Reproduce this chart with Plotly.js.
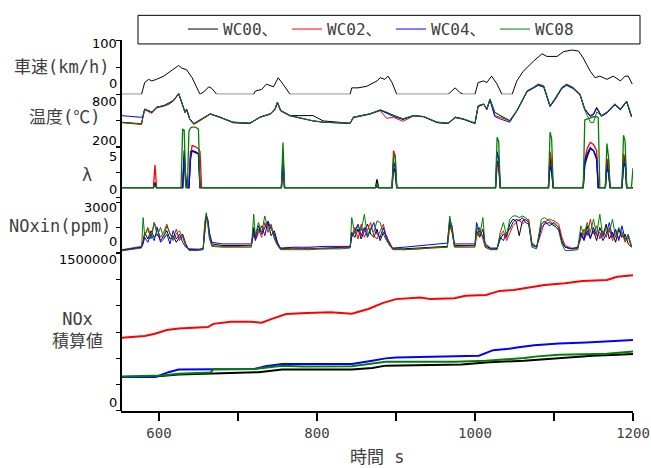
<!DOCTYPE html>
<html><head><meta charset="utf-8">
<script src="https://cdn.plot.ly/plotly-3.0.1.min.js"></script>
<style>html,body{margin:0;padding:0;background:#fff}#chart{width:651px;height:468px}</style>
</head><body><div id="chart"></div>
<script>
const seriesNames = ['WC00、','WC02、','WC04、','WC08'];
const seriesColors = ['#000000','#ff0000','#0000ff','#008000'];

// x axis ticks
const xTickVals = [600,700,800,900,1000,1100,1200];
const xTickText = ['600','','800','','1000','','1200'];

// Vehicle speed (km/h)
const speedTime = [553,578,582,587,591,597,606,612,620,625,629,635,642,648,652,658,663,667,673,720,722,730,736,745,751,757,766,842,844,852,863,876,880,886,890,895,901,966,975,981,985,1000,1004,1011,1015,1021,1028,1034,1047,1053,1061,1074,1085,1091,1104,1112,1123,1131,1137,1146,1152,1158,1167,1175,1184,1190,1194,1199];
const speedWC00 = [0,0,22,28,25,28,34,40,49,54,49,46,31,12,0,6,14,11,0,0,6,9,19,14,31,19,0,0,12,12,15,25,31,28,34,22,0,0,12,3,0,0,22,25,22,34,19,0,0,25,43,62,76,71,71,80,83,81,68,43,31,34,28,34,25,34,34,19];

// Temperature (℃)
const tempTime = [553,578,580,582,591,597,606,612,618,625,629,633,635,639,644,650,665,677,694,715,728,741,747,750,754,766,783,795,808,842,846,867,880,888,897,909,922,935,952,966,975,985,1000,1004,1011,1015,1019,1025,1032,1044,1053,1066,1074,1080,1087,1091,1095,1101,1110,1116,1124,1133,1139,1146,1150,1154,1160,1167,1177,1184,1192,1198];
const tempWC00 = [485,467,559,633,596,652,670,689,726,807, 707,596,633,522,467,496,578,541,485,474, 541,578,633,707,615,559,559,560,500,474, 541,578,622,596,559,522,559,548,485,474, 541,522,474,670,689,633,744,596,559,503, 615,837,874,911,892,781,670,744,874,911, 874,800,633,559,580,652,559,596,689,633, 720,559];
const tempWC02 = [480,460,550,625,585,645,665,685,720,800, 700,590,625,515,460,490,575,540,480,470, 540,575,625,700,610,555,522,500,485,470, 535,575,615,530,540,496,555,545,480,470, 535,520,470,660,685,625,735,560,540,500, 610,830,870,905,885,775,665,735,870,905, 870,795,630,555,575,645,555,590,685,625, 715,550];
const tempWC04 = [559,540,565,630,600,655,672,700,730,805, 705,600,630,525,470,500,580,545,480,472, 545,580,640,712,620,560,522,500,485,472, 540,580,620,590,550,515,560,548,482,470, 540,520,470,665,690,630,740,550,522,485, 612,830,865,900,880,770,660,735,865,900, 865,790,625,550,570,645,550,590,680,625, 715,545];
const tempWC08 = [482,465,555,635,598,655,672,692,728,810, 710,598,635,520,468,498,580,542,487,476, 542,580,635,712,618,560,525,502,487,476, 543,580,625,600,558,525,560,550,487,476, 543,525,476,672,692,636,748,598,560,505, 618,840,878,915,895,785,672,748,878,915, 878,800,620,485,480,600,560,600,692,636, 725,560];

// Lambda
const lambdaTime = [553,580,593,595,597,628,630,632,634,636, 638,640,642,646,650,652,654,656,755,757, 759,874,876,878,895,897,899,901,1026,1028, 1030,1032,1093,1095,1097,1099,1137,1139,1142,1146, 1150,1154,1156,1158,1165,1167,1169,1171,1186,1188, 1190,1192,1196,1198,1200];
const lambdaWC00 = [1,1,1,1.5,1,1,1,4.6,1.5,1, 1,4.5,4.6,4.4,4.3,1,1,1,1,3.5, 1,1,1.8,1,1,3.0,2.5,1,1,3.6, 3.0,1,1,4.0,3.0,1,1,3.2,4.0,4.8, 4.6,4.0,1,1,1,3.8,2.0,1,1,3.5, 4.0,1,1,1,1];
const lambdaWC02 = [1,1,1,3.2,1,1,1,3.8,1.2,1, 1,4.0,5.1,5.0,4.8,4.5,1,1,1,3.0, 1,1,1.2,1,1,4.6,4.0,1,1,3.2, 3.5,1,1,4.5,3.5,1,1,3.7,4.8,5.4, 5.2,4.6,1,1,1,3.3,3.8,1,1,4.3, 3.8,1,1,1,1];
const lambdaWC04 = [1,1,1,1.3,1,1,1,4.0,2.0,1, 1,3.8,4.6,4.5,4.3,1,1,1,1,4.0, 1,1,1.1,1,1,3.5,3.0,1,1,4.5, 3.8,1,1,3.2,2.5,1,1,3.5,4.3,4.9, 4.6,3.7,1,1,1,3.0,2.5,1,1,3.0, 3.5,1,1,1,1];
const lambdaWC08 = [1,1,1,1.2,1,1,6.7,6.6,1,1, 6.5,6.8,6.9,6.9,6.7,1,1,1,1,5.4, 1,1,1.4,1,1,4.0,4.2,1,1,5.9, 5.5,1,1,6.4,5.8,1,1,7.6,7.7,7.8, 7.9,7.9,7.8,1,1,5.3,4.0,1,1,6.1, 5.5,1,1,1,2.9];

// NOx in (ppm)
const noxTime = [553,565,578,580,582,586,590,594,598,602, 606,610,614,618,622,626,630,634,638,650, 656,658,660,662,664,667,680,700,717,720, 722,726,730,734,738,742,746,750,754,770, 790,810,830,842,844,848,852,856,860,864, 868,872,876,880,884,888,892,896,910,930, 950,965,968,971,974,990,1000,1002,1006,1010, 1013,1020,1028,1032,1036,1040,1044,1048,1052,1056, 1060,1064,1068,1072,1078,1084,1088,1094,1100,1106, 1110,1114,1122,1130,1134,1138,1142,1146,1150,1154, 1158,1162,1166,1170,1174,1178,1182,1186,1190,1194, 1198];
const noxWC00 = [100,200,300,700,1200,800,1300,900,1100,700, 1000,1300,800,1000,600,900,1100,500,150,150, 200,1500,2300,1800,900,500,400,400,400,1500, 900,1600,1100,1500,1800,1000,1300,600,200,250, 200,250,300,300,1200,900,1400,800,1300,1700, 1100,900,1400,700,1200,1000,500,200,200,250, 300,350,1800,1200,400,400,400,1300,900,1400, 400,200,200,800,1100,900,1700,2000,1900,1000, 1900,2000,1800,500,300,1700,1900,1600,1800,1500, 700,300,200,200,1200,800,1600,900,1300,700, 1500,1000,1700,800,1200,600,1400,900,1100,500, 300];
const noxWC02 = [150,250,350,600,1000,1500,900,1800,1300,900, 1200,1700,1100,800,1400,700,1000,400,150,150, 200,1200,2100,2000,1000,400,350,350,380,1100, 800,1400,900,1800,1200,1700,900,500,200,200, 250,200,250,300,1000,1500,800,1700,900,1300, 1800,1000,800,1300,1700,900,600,200,150,200, 250,300,1500,1300,350,350,380,900,1500,800, 300,150,200,1000,1300,700,1200,1600,1800,2000, 1700,1900,2000,600,300,1200,1800,2000,1900,1700, 900,400,250,250,900,1400,1000,2000,1100,1600, 800,1300,900,1500,700,1300,800,1200,600,900, 300];
const noxWC04 = [120,220,300,500,900,600,1100,700,1500,600, 800,1100,500,1300,800,1100,600,300,200,180, 200,1700,2200,1900,1200,600,500,500,500,1300, 700,1200,1600,1000,1900,1400,1100,500,250,300, 300,350,350,350,900,1300,1700,1000,1500,900, 1400,1800,1100,900,1500,800,400,250,300,400, 500,550,2000,1600,500,500,500,1800,1200,1000, 500,250,250,900,700,1200,1400,1800,2000,1900, 2100,1800,1700,400,300,1500,1700,1800,1600,1400, 600,300,200,300,1100,700,1300,800,1500,1000, 1200,700,1100,1800,900,1400,700,1600,800,1000, 400];
const noxWC08 = [80,150,250,2100,1000,1400,800,1800,1000,1500, 900,1600,1200,700,1100,1300,900,400,100,100, 150,1800,2400,1500,800,350,300,300,300,2300, 1000,1800,1200,2200,1400,1600,800,400,150,150, 150,200,200,250,2100,1100,1600,1300,2300,1000, 1500,1200,1900,1800,1100,700,400,150,150,200, 300,300,2200,1400,300,300,300,1600,1000,2100, 300,150,150,1200,1800,1000,2000,2200,2200,2100, 2200,2100,1900,300,200,2000,2100,1900,1700,1300, 500,100,100,150,1600,1000,1800,1200,2000,1100, 2300,900,1500,1200,2000,900,1500,1200,700,1100, 300];

// Cumulative NOx
const cumTimeWC00 = [553,595,625,669,726,756,844,870,887,983,1018,1062,1106,1149,1180,1200];
const cumWC00 = [322000,328000,347000,359000,369000,394000,394000,409000,431000,441000,463000,478000,503000,525000,534000,541000];
const cumTimeWC02 = [553,582,595,610,625,662,669,691,717,730,743,761,787,817,844,865,883,900,931,944,974,988,1014,1031,1049,1062,1088,1114,1136,1167,1180,1200];
const cumWC02 = [697000,712000,734000,769000,784000,797000,828000,847000,847000,838000,875000,922000,931000,938000,925000,969000,1025000,1063000,1078000,1063000,1072000,1094000,1103000,1141000,1150000,1166000,1197000,1213000,1235000,1244000,1275000,1291000];
const cumTimeWC04 = [553,595,612,625,721,735,756,844,870,887,900,970,1005,1023,1040,1053,1075,1106,1141,1200];
const cumWC04 = [322000,322000,369000,394000,400000,425000,447000,447000,478000,500000,509000,516000,525000,578000,588000,603000,625000,641000,650000,675000];
const cumTimeWC08 = [553,604,625,665,669,721,756,783,844,887,975,1014,1062,1079,1106,1167,1200];
const cumWC08 = [328000,338000,353000,366000,397000,400000,431000,422000,425000,469000,469000,478000,503000,519000,534000,544000,566000];

// ---------- layout geometry ----------
const PX = {left:121, right:633, top:35, bottom:411};
const py = v => (PX.bottom - v) / (PX.bottom - PX.top);
const pxX = v => (v - PX.left) / (PX.right - PX.left);

const FONT = 'DejaVu Sans Mono, Noto Sans CJK JP, sans-serif';
const TICKFONT = 'DejaVu Sans, sans-serif';

const temps = [tempWC00, tempWC02, tempWC04, tempWC08];
const lambdas = [lambdaWC00, lambdaWC02, lambdaWC04, lambdaWC08];
const noxs = [noxWC00, noxWC02, noxWC04, noxWC08];
const cumT = [cumTimeWC00, cumTimeWC02, cumTimeWC04, cumTimeWC08];
const cums = [cumWC00, cumWC02, cumWC04, cumWC08];

const traces = [];
traces.push({x: speedTime, y: speedWC00, xaxis:'x', yaxis:'y5', mode:'lines', line:{color:'#000', width:1}, showlegend:false, hoverinfo:'skip'});
for (let i = 0; i < 4; i++) {
  traces.push({x: tempTime, y: temps[i], xaxis:'x', yaxis:'y4', mode:'lines', name: seriesNames[i],
    line:{color: seriesColors[i], width:1}, showlegend:true, hoverinfo:'skip'});
}
for (let i = 0; i < 4; i++) {
  traces.push({x: lambdaTime, y: lambdas[i], xaxis:'x', yaxis:'y3', mode:'lines',
    line:{color: seriesColors[i], width:1.3}, showlegend:false, hoverinfo:'skip'});
}
for (let i = 0; i < 4; i++) {
  traces.push({x: noxTime, y: noxs[i], xaxis:'x', yaxis:'y2', mode:'lines',
    line:{color: seriesColors[i], width:1}, showlegend:false, hoverinfo:'skip'});
}
for (let i = 0; i < 4; i++) {
  traces.push({x: cumT[i], y: cums[i], xaxis:'x', yaxis:'y', mode:'lines',
    line:{color: seriesColors[i], width:2}, showlegend:false, hoverinfo:'skip'});
}

const yBase = {showgrid:false, zeroline:false, showline:false, ticks:'outside', ticklen:4,
  tickwidth:1, tickcolor:'#000', showticklabels:false, anchor:'x', fixedrange:true};

const tickLabel = (yref, val, shift, text) => ({xref:'paper', x:0, xanchor:'right', xshift:-2,
  yref: yref, y: val, yanchor:'middle', yshift: shift, text: text, showarrow:false,
  font:{family:TICKFONT, size:13, color:'#000'}});
const title = (xpx, ypx, text) => ({xref:'paper', yref:'paper', x: pxX(xpx), y: py(ypx),
  xanchor:'center', yanchor:'middle', text: text, showarrow:false,
  font:{family:FONT, size:17, color:'#404040'}});

const layout = {
  width:651, height:468,
  margin:{l:PX.left, r:651-PX.right, t:PX.top, b:468-PX.bottom, pad:0},
  paper_bgcolor:'#fff', plot_bgcolor:'rgba(0,0,0,0)',
  showlegend:true,
  legend:{orientation:'h', x: pxX(183), xanchor:'left', y: py(24), yanchor:'middle',
    font:{family:FONT, size:16, color:'#404040'}, bgcolor:'rgba(0,0,0,0)', borderwidth:0,
    entrywidth:59, entrywidthmode:'pixels'},
  xaxis:{domain:[0,1], range:[552,1200], anchor:'y', tickmode:'array', tickvals:xTickVals, ticktext:xTickText,
    ticks:'outside', ticklen:8, tickwidth:1.5, tickcolor:'#000', showline:true, linewidth:2, linecolor:'#000',
    showgrid:false, zeroline:false, tickfont:{family:FONT, size:14, color:'#404040'}, fixedrange:true},
  yaxis: Object.assign({}, yBase, {domain:[0, py(251)], range:[0,1500000], tickmode:'array',
    tickvals:[0,250000,500000,750000,1000000,1250000,1500000]}),
  yaxis2: Object.assign({}, yBase, {domain:[py(250), py(195)], range:[0,3300], tickmode:'array', tickvals:[0,1500,3000]}),
  yaxis3: Object.assign({}, yBase, {domain:[py(195), py(110)], range:[0,8.17], tickmode:'array', tickvals:[0,2.5,5]}),
  yaxis4: Object.assign({}, yBase, {domain:[py(144), py(75)], range:[200,966.7], tickmode:'array', tickvals:[200,500,800]}),
  yaxis5: Object.assign({}, yBase, {domain:[py(90), 1], range:[0,101.8], tickmode:'array', tickvals:[0,50,100]}),
  shapes:[
    {type:'line', xref:'paper', yref:'paper', x0:0, x1:0, y0:0, y1:1, line:{color:'#000', width:2}},
    {type:'rect', xref:'paper', yref:'paper', x0:pxX(138), x1:pxX(640), y0:py(39), y1:py(10),
      line:{color:'#000', width:1}, fillcolor:'rgba(0,0,0,0)'}
  ],
  annotations:[
    tickLabel('y5', 100, -3, '100'), tickLabel('y5', 0, 11, '0'),
    tickLabel('y4', 800, -7, '800'), tickLabel('y4', 200, 7, '200'),
    tickLabel('y3', 5, -10, '5'), tickLabel('y3', 0, 8, '0'),
    tickLabel('y2', 3000, -5, '3000'), tickLabel('y2', 0, 11, '0'),
    tickLabel('y', 1500000, -6, '1500000'), tickLabel('y', 0, 8, '0'),
    title(61, 62, '車速(km/h)'),
    title(64, 113, '温度(℃)'),
    title(87, 172, 'λ'),
    title(60, 223, 'NOxin(ppm)'),
    title(77, 329, 'NOx<br>積算値'),
    title(377, 458, '時間 s')
  ]
};

Plotly.newPlot('chart', traces, layout, {staticPlot:true, displayModeBar:false});
</script>
</body></html>
